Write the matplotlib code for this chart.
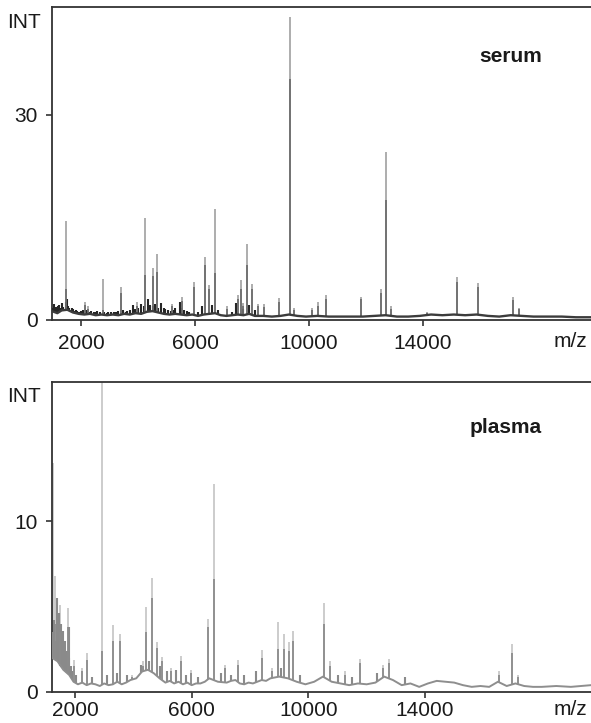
import matplotlib
matplotlib.use("Agg")
import matplotlib.pyplot as plt
import numpy as np

plt.rcParams['font.family'] = ['Liberation Sans', 'DejaVu Sans']

# ---------------- serum spectrum ----------------
serum_mz = [1445, 2124, 2240, 2747, 3390, 3943, 4235, 4506, 4657, 5175,
            5526, 5959, 6346, 6487, 6698, 7110, 7518, 7602, 7694, 7813,
            7989, 8200, 8433, 8961, 9337, 9489, 10100, 10333, 10593, 11825,
            12539, 12704, 12891, 14147, 15203, 15963, 17173, 17406]
serum_top = [14.5, 2.7, 2.0, 6.0, 4.8, 2.6, 14.9, 7.6, 9.7, 2.4,
             3.4, 5.5, 9.2, 5.1, 16.3, 2.0, 3.7, 5.9, 2.5, 11.1,
             5.3, 2.4, 2.3, 3.2, 44.3, 1.8, 1.7, 2.6, 3.6, 3.4,
             4.5, 24.6, 2.0, 1.2, 6.3, 5.4, 3.3, 1.8]
serum_core = [4.5, 2.2, 1.6, 1.5, 4.0, 2.0, 6.6, 6.5, 7.0, 2.0,
              2.8, 4.8, 8.0, 4.5, 6.9, 1.6, 3.0, 4.5, 2.0, 8.0,
              4.5, 2.0, 1.9, 2.6, 35.2, 1.5, 1.4, 2.1, 3.0, 3.0,
              4.0, 17.6, 1.6, 1.0, 5.5, 4.8, 2.9, 1.6]
serum_noise_mz = [1000, 1020, 1050, 1100, 1150, 1180, 1200, 1240, 1280, 1330,
                  1360, 1400, 1470, 1500, 1530, 1560, 1600, 1620, 1660, 1700,
                  1740, 1780, 1820, 1850, 1900, 1950, 2000, 2050, 2150, 2200,
                  2300, 2350, 2450, 2500, 2550, 2650, 2800, 2900, 2950, 3050,
                  3150, 3200, 3300, 3450, 3550, 3600, 3700, 3800, 3900, 4000,
                  4100, 4200, 4350, 4420, 4500, 4600, 4700, 4800, 4900, 4950,
                  5050, 5150, 5250, 5300, 5450, 5500, 5600, 5700, 5800, 6100,
                  6250, 6600, 6800, 7300, 7450, 7700, 7900, 8100]
serum_noise = [1.8, 1.5, 2.3, 1.9, 1.5, 2.0, 2.2, 1.7, 1.4, 2.5,
               1.9, 1.6, 2.6, 3.0, 2.0, 1.8, 1.5, 1.4, 1.7, 1.6,
               1.3, 1.2, 1.5, 1.3, 1.2, 1.1, 1.3, 1.4, 1.5, 1.3,
               1.2, 1.3, 1.2, 1.1, 1.3, 1.2, 1.1, 1.0, 1.2, 1.2,
               1.1, 1.1, 1.3, 1.4, 1.2, 1.3, 1.5, 2.2, 1.6, 1.8,
               2.4, 2.0, 3.0, 2.2, 2.0, 2.3, 1.8, 2.5, 1.7, 1.6,
               1.4, 1.3, 1.5, 1.8, 2.6, 1.7, 1.5, 1.3, 1.2, 1.1,
               2.0, 2.2, 1.5, 1.2, 2.5, 1.6, 2.2, 1.4]
serum_base_mz = [963, 1150, 1300, 1500, 1700, 1900, 2100, 2300, 2500, 2700,
                 2900, 3100, 3300, 3500, 3700, 3900, 4100, 4300, 4500, 4700,
                 4900, 5100, 5300, 5500, 5700, 5900, 6100, 6300, 6500, 6700,
                 6900, 7100, 7300, 7500, 7700, 7900, 8100, 8400, 8700, 9000,
                 9300, 9600, 9900, 10300, 10700, 11100, 11500, 11900, 12300, 12700,
                 13100, 13500, 13900, 14300, 14700, 15100, 15500, 15900, 16300, 16700,
                 17100, 17500, 17900, 18400, 18900, 19400, 19928]
serum_base = [1.3, 1.0, 1.4, 1.5, 1.1, 0.9, 0.8, 0.9, 0.7, 0.8,
              0.7, 0.8, 0.7, 0.9, 0.8, 1.0, 0.9, 1.2, 1.3, 1.1,
              0.9, 0.8, 0.9, 0.8, 0.7, 0.8, 0.6, 0.8, 0.9, 1.0,
              0.7, 0.6, 0.7, 0.8, 0.7, 0.9, 0.6, 0.6, 0.5, 0.6,
              0.8, 0.6, 0.5, 0.6, 0.5, 0.5, 0.5, 0.5, 0.6, 0.7,
              0.5, 0.5, 0.6, 0.8, 0.7, 0.8, 0.7, 0.8, 0.6, 0.5,
              0.7, 0.6, 0.5, 0.5, 0.5, 0.4, 0.4]

# ---------------- plasma spectrum ----------------
plasma_mz = [1260, 1315, 1487, 1750, 1977, 2230, 2422, 2937, 3293, 3554,
             3966, 4342, 4435, 4651, 4812, 4993, 5292, 5635, 5967, 6570,
             6776, 7143, 7578, 8422, 8743, 8949, 9176, 9337, 9463, 10537,
             10753, 11257, 11761, 12560, 12776, 16536, 16971, 17198]
plasma_top = [13.4, 6.8, 5.1, 4.9, 1.9, 1.4, 2.3, 18.5, 3.9, 3.4,
              1.0, 1.8, 5.0, 6.7, 2.9, 2.05, 1.4, 2.1, 1.3, 4.3,
              12.2, 1.6, 1.9, 2.45, 1.4, 4.1, 3.4, 2.9, 3.6, 5.2,
              1.8, 1.2, 1.95, 1.6, 1.95, 1.2, 2.8, 1.0]
plasma_core = [3.5, 4.0, 3.5, 3.8, 1.5, 1.2, 1.9, 2.4, 3.0, 3.0,
               0.9, 1.5, 3.5, 5.5, 2.6, 1.8, 1.2, 1.8, 1.1, 3.8,
               6.6, 1.4, 1.6, 2.0, 1.2, 2.5, 2.5, 2.4, 3.0, 4.0,
               1.5, 1.0, 1.7, 1.4, 1.7, 1.0, 2.3, 0.9]
plasma_noise_mz = [1230, 1290, 1350, 1380, 1410, 1440, 1470, 1500, 1530, 1560,
                   1590, 1620, 1650, 1680, 1710, 1780, 1810, 1850, 1900, 2050,
                   2600, 3100, 3450, 3800, 4250, 4550, 4900, 5150, 5450, 5800,
                   6200, 7000, 7350, 7800, 8200, 9050, 9700, 11000, 11500, 12350,
                   13300]
plasma_noise = [3.5, 4.2, 3.0, 5.5, 2.8, 4.6, 3.6, 3.2, 4.0, 2.5,
                3.6, 2.2, 3.0, 1.8, 2.4, 3.8, 2.0, 1.5, 1.2, 1.0,
                0.9, 1.0, 1.1, 1.0, 1.6, 1.8, 1.5, 1.2, 1.3, 1.0,
                0.9, 1.1, 1.0, 1.0, 1.2, 1.4, 1.0, 1.0, 0.9, 1.1,
                0.9]
plasma_base_mz = [1212, 1400, 1600, 1800, 1950, 2100, 2250, 2400, 2550, 2700,
                  2850, 3000, 3150, 3300, 3450, 3600, 3750, 3900, 4100, 4300,
                  4500, 4700, 4900, 5100, 5250, 5400, 5550, 5700, 5850, 6000,
                  6150, 6300, 6450, 6600, 6900, 7200, 7350, 7500, 7650, 7800,
                  7950, 8100, 8250, 8400, 8550, 8700, 9000, 9300, 9600, 9900,
                  10200, 10500, 10800, 11100, 11400, 11700, 12000, 12300, 12600, 12900,
                  13200, 13500, 13800, 14100, 14400, 14700, 15000, 15300, 15600, 15900,
                  16200, 16500, 16800, 17100, 17400, 17700, 18000, 18500, 19000, 19690]
plasma_base = [2.0, 1.8, 1.3, 1.0, 0.6, 0.45, 0.55, 0.4, 0.5, 0.45,
               0.35, 0.5, 0.4, 0.45, 0.6, 0.45, 0.55, 0.7, 0.8, 1.2,
               1.3, 1.1, 0.8, 0.55, 0.65, 0.5, 0.6, 0.45, 0.55, 0.4,
               0.5, 0.5, 0.6, 0.8, 0.6, 0.55, 0.65, 0.7, 0.5, 0.45,
               0.55, 0.5, 0.6, 0.7, 0.65, 0.8, 0.9, 0.8, 0.6, 0.45,
               0.6, 0.9, 0.6, 0.5, 0.4, 0.5, 0.45, 0.55, 0.9, 0.7,
               0.4, 0.5, 0.3, 0.5, 0.65, 0.6, 0.55, 0.4, 0.3, 0.35,
               0.3, 0.6, 0.35, 0.5, 0.35, 0.3, 0.3, 0.35, 0.3, 0.4]

xticks = [2000, 6000, 10000, 14000]

fig = plt.figure(figsize=(5.91, 7.23), dpi=100)
ax1 = fig.add_axes([0.088, 0.5574, 0.912, 0.4329])
ax2 = fig.add_axes([0.088, 0.0429, 0.912, 0.4288])


def draw_spectrum(ax, mz, top, core, nmz, noise, bmz, base,
                  c_top, c_core, c_noise, c_base, lw_base):
    foot = np.interp(mz, bmz, base)
    nfoot = np.interp(nmz, bmz, base)
    ax.vlines(mz, foot, top, color=c_top, lw=1.4, zorder=2)
    ax.vlines(nmz, nfoot, noise, color=c_noise, lw=1.5, zorder=3)
    ax.vlines(mz, foot, core, color=c_core, lw=1.3, zorder=3)
    ax.plot(bmz, base, color=c_base, lw=lw_base, zorder=4)


draw_spectrum(ax1, serum_mz, serum_top, serum_core,
              serum_noise_mz, serum_noise, serum_base_mz, serum_base,
              "#adadad", "#6e6e6e", "#262626", "#3c3c3c", 1.7)
draw_spectrum(ax2, plasma_mz, plasma_top, plasma_core,
              plasma_noise_mz, plasma_noise, plasma_base_mz, plasma_base,
              "#cccccc", "#8c8c8c", "#8a8a8a", "#8e8e8e", 1.4)

ax1.set_xlim(963, 19928)
ax1.set_ylim(0, 45.8)
ax1.set_yticks([0, 30])
ax2.set_xlim(1212, 19690)
ax2.set_ylim(0, 18.16)
ax2.set_yticks([0, 10])

for ax, xpad in ((ax1, 6), (ax2, 2.5)):
    ax.set_xticks(xticks)
    ax.spines['right'].set_visible(False)
    for s in ('left', 'bottom', 'top'):
        ax.spines[s].set_color("#333333")
        ax.spines[s].set_linewidth(1.3)
    ax.tick_params(axis='both', length=4, width=1.2, color="#333333",
                   labelsize=15, labelcolor="#1a1a1a")
    ax.tick_params(axis='y', pad=6)
    ax.tick_params(axis='x', pad=xpad)
    ax.annotate("m/z", xy=(1, 0), xycoords='axes fraction',
                xytext=(-3, -(xpad + 3)), textcoords='offset points',
                ha='right', va='top', fontsize=15, color="#1a1a1a")

fig.text(7 / 591, 1 - 22 / 723, "INT", fontsize=15, ha='left', va='center', color="#1a1a1a")
fig.text(7 / 591, 1 - 396 / 723, "INT", fontsize=15, ha='left', va='center', color="#1a1a1a")
fig.text(542 / 591, 1 - 62 / 723, "serum", fontsize=15, fontweight='bold',
         ha='right', va='baseline', color="#1a1a1a")
fig.text(542 / 591, 1 - 433 / 723, "plasma", fontsize=15, fontweight='bold',
         ha='right', va='baseline', color="#1a1a1a")

fig.savefig("out.png", dpi=100)
